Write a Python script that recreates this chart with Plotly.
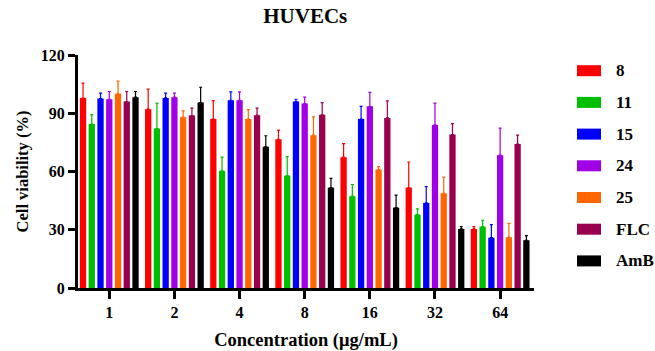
import plotly.graph_objects as go

categories = ["1", "2", "4", "8", "16", "32", "64"]
series_names = ["8", "11", "15", "24", "25", "FLC", "AmB"]
colors = ["#FF0000", "#00BF00", "#0000FF", "#A000E6", "#FF6600", "#99004D", "#000000"]

means = {
    "8":   [97.8, 92.1, 87.0, 76.6, 67.4, 51.7, 30.4],
    "11":  [84.4, 82.1, 60.3, 57.9, 47.3, 37.8, 31.6],
    "15":  [97.6, 97.9, 96.7, 96.0, 87.0, 43.8, 25.9],
    "24":  [97.2, 98.3, 96.7, 95.0, 93.6, 84.0, 68.4],
    "25":  [100.0, 88.0, 87.0, 78.7, 61.0, 48.8, 26.1],
    "FLC": [96.0, 88.8, 89.0, 89.2, 87.6, 79.0, 74.1],
    "AmB": [98.3, 95.5, 72.8, 51.7, 41.4, 30.4, 24.6],
}
err_tops = {
    "8":   [105.5, 102.4, 96.5, 81.3, 74.4, 64.9, 31.6],
    "11":  [89.3, 95.2, 67.4, 67.7, 53.3, 40.7, 34.9],
    "15":  [100.4, 100.4, 101.0, 97.2, 93.5, 52.2, 32.6],
    "24":  [101.2, 100.4, 101.0, 98.3, 100.8, 95.2, 82.3],
    "25":  [106.5, 91.2, 91.9, 88.1, 62.5, 57.1, 33.3],
    "FLC": [101.2, 92.6, 92.6, 95.5, 96.4, 84.7, 78.7],
    "AmB": [101.2, 103.4, 78.4, 56.5, 47.8, 31.6, 27.0],
}
y_ticks = [0, 30, 60, 90, 120]

FONT = "Liberation Serif"

fig = go.Figure()
for name, col in zip(series_names, colors):
    m = means[name]
    e = [t - v for t, v in zip(err_tops[name], m)]
    fig.add_trace(go.Bar(
        x=categories, y=m, name=name,
        marker=dict(color=col, line=dict(width=0)),
        error_y=dict(type="data", array=e, arrayminus=[0] * len(e), symmetric=False,
                     color=col, thickness=1.2, width=1.5),
        showlegend=False,
    ))

# custom legend (paper coords: plot area x 78..534, y 55..288 px)
L, R, T, B = 78, 534, 55, 288
W, H = R - L, B - T
def px(x):
    return (x - L) / W
def py(y):
    return (B - y) / H

shapes = []
annotations = []
for i, (name, col) in enumerate(zip(series_names, colors)):
    cy = 70.7 + 31.7 * i
    shapes.append(dict(type="rect", xref="paper", yref="paper",
                       x0=px(577), x1=px(601), y0=py(cy + 5.5), y1=py(cy - 5.5),
                       fillcolor=col, line=dict(width=0)))
    annotations.append(dict(xref="paper", yref="paper", x=px(614), y=py(cy),
                            text=name, showarrow=False, xanchor="left", yanchor="middle",
                            font=dict(family=FONT, size=17, color="black", weight="bold")))

fig.update_layout(
    width=655, height=351,
    margin=dict(l=L, r=655 - R, t=T, b=351 - B, autoexpand=False),
    paper_bgcolor="white", plot_bgcolor="white",
    barmode="group", bargap=0.06, bargroupgap=0.28,
    title=dict(text="HUVECs", x=0.466, xanchor="center", y=0.955, yanchor="middle",
               font=dict(family=FONT, size=21, color="black", weight="bold")),
    font=dict(family=FONT, color="black"),
    shapes=shapes, annotations=annotations,
)
fig.update_xaxes(
    type="category", range=[-0.48, 6.52], automargin=False,
    showline=True, linecolor="black", linewidth=3,
    ticks="outside", ticklen=8, tickwidth=3, tickcolor="black",
    tickfont=dict(family=FONT, size=16, color="black", weight="bold"),
    title=dict(text="Concentration (μg/mL)", font=dict(family=FONT, size=18.5, color="black", weight="bold"), standoff=13),
    showgrid=False, zeroline=False,
)
fig.update_yaxes(
    range=[0, 120], tickvals=y_ticks, automargin=False,
    showline=True, linecolor="black", linewidth=3,
    ticks="outside", ticklen=7, tickwidth=3, tickcolor="black",
    tickfont=dict(family=FONT, size=16, color="black", weight="bold"),
    title=dict(text="Cell viability (%)", font=dict(family=FONT, size=16.5, color="black", weight="bold"), standoff=9),
    showgrid=False, zeroline=False,
)

fig.write_html("out.html")
